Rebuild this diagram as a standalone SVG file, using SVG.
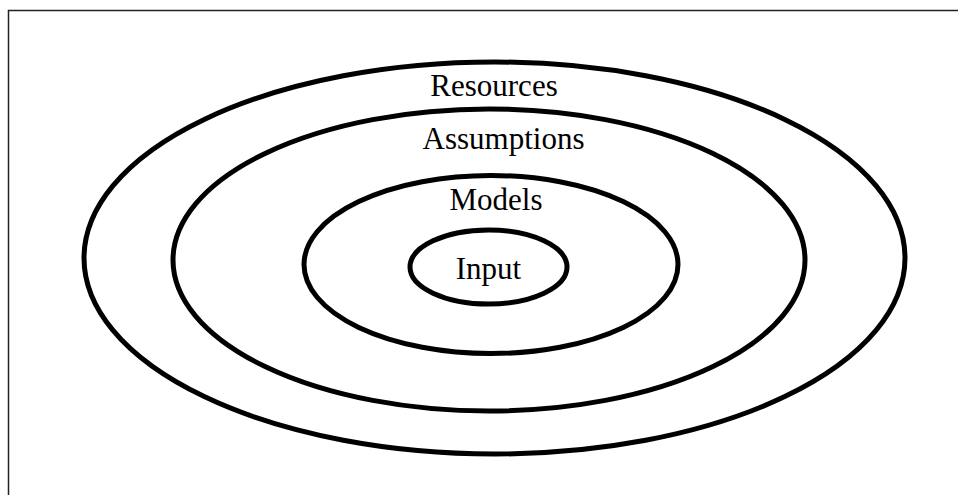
<svg xmlns="http://www.w3.org/2000/svg" width="958" height="495" viewBox="0 0 958 495">
<style>
.ring{fill:none;stroke:#000;stroke-width:5}
.lbl{font-family:"Liberation Serif","Times New Roman",serif;font-size:31px;fill:#000;text-anchor:middle}
</style>
<rect width="958" height="495" fill="#fff"/>
<path d="M8.5,495 V10.5 H958" fill="none" stroke="#222" stroke-width="1.5"/>
<g id="resources">
<ellipse class="ring" cx="494.5" cy="258" rx="410.5" ry="196"/>
<text class="lbl" x="494" y="96">Resources</text>
</g>
<g id="assumptions">
<ellipse class="ring" cx="489" cy="260" rx="316" ry="151"/>
<text class="lbl" x="503.5" y="149">Assumptions</text>
</g>
<g id="models">
<ellipse class="ring" cx="491" cy="264.5" rx="187" ry="89"/>
<text class="lbl" x="496" y="210">Models</text>
</g>
<g id="input">
<ellipse class="ring" cx="488.5" cy="267" rx="78.5" ry="37"/>
<text class="lbl" x="488.5" y="279">Input</text>
</g>
<g id="connectors"/>
</svg>
